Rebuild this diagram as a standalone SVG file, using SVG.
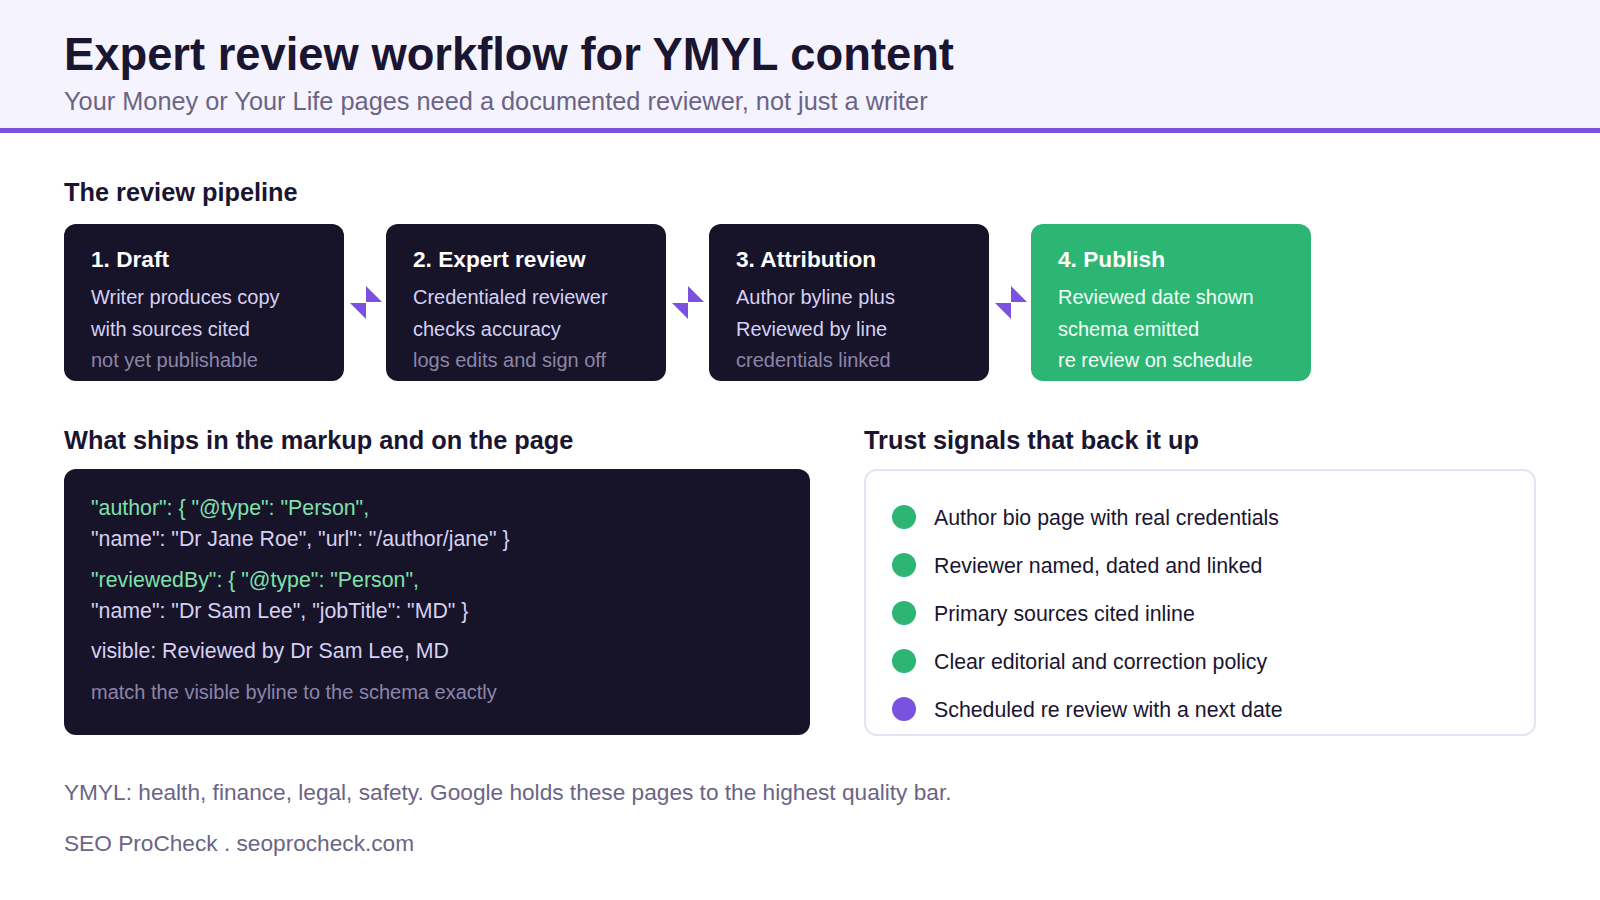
<svg xmlns="http://www.w3.org/2000/svg" width="1600" height="900" viewBox="0 0 1600 900">
  <defs>
    <style>
      text { font-family: "Liberation Sans", Arial, sans-serif; }
      .title { font-size: 45.33px; font-weight: bold; fill: #1a1530; }
      .sub { font-size: 25.33px; fill: #6b6485; }
      .h2 { font-size: 25.33px; font-weight: bold; fill: #1a1530; }
      .card { fill: #17142a; }
      .card-pub { fill: #2db673; }
      .ct { font-size: 22.67px; font-weight: bold; fill: #ffffff; }
      .cl { font-size: 20px; fill: #d6d0f2; }
      .cm { font-size: 20px; fill: #8c85a8; }
      .pl { font-size: 20px; fill: #f2fff8; }
      .code-g { font-size: 21.33px; fill: #7fe0aa; }
      .code-l { font-size: 21.33px; fill: #d6d0f2; }
      .code-m { font-size: 20px; fill: #8c85a8; }
      .trust { fill: #ffffff; stroke: #e6e3f3; stroke-width: 2; }
      .ti { font-size: 21.33px; fill: #1a1530; }
      .foot { font-size: 22.67px; fill: #6b6485; }
      .arr { fill: #7b52e0; }
    </style>
  </defs>

  <rect x="0" y="0" width="1600" height="900" fill="#ffffff"/>
  <rect x="0" y="0" width="1600" height="128" fill="#f5f3fe"/>
  <rect x="0" y="128" width="1600" height="5" fill="#7b52e0"/>

  <text class="title" x="64" y="70">Expert review workflow for YMYL content</text>
  <text class="sub" x="64" y="110">Your Money or Your Life pages need a documented reviewer, not just a writer</text>

  <text class="h2" x="64" y="201">The review pipeline</text>

  <g id="node-draft">
    <rect class="card" x="64" y="224" width="280" height="157" rx="12"/>
    <text class="ct" x="91" y="267">1. Draft</text>
    <text class="cl" x="91" y="304">Writer produces copy</text>
    <text class="cl" x="91" y="336">with sources cited</text>
    <text class="cm" x="91" y="367">not yet publishable</text>
  </g>
  <g id="node-review">
    <rect class="card" x="386" y="224" width="280" height="157" rx="12"/>
    <text class="ct" x="413" y="267">2. Expert review</text>
    <text class="cl" x="413" y="304">Credentialed reviewer</text>
    <text class="cl" x="413" y="336">checks accuracy</text>
    <text class="cm" x="413" y="367">logs edits and sign off</text>
  </g>
  <g id="node-attribution">
    <rect class="card" x="709" y="224" width="280" height="157" rx="12"/>
    <text class="ct" x="736" y="267">3. Attribution</text>
    <text class="cl" x="736" y="304">Author byline plus</text>
    <text class="cl" x="736" y="336">Reviewed by line</text>
    <text class="cm" x="736" y="367">credentials linked</text>
  </g>
  <g id="node-publish">
    <rect class="card-pub" x="1031" y="224" width="280" height="157" rx="12"/>
    <text class="ct" x="1058" y="267">4. Publish</text>
    <text class="pl" x="1058" y="304">Reviewed date shown</text>
    <text class="pl" x="1058" y="336">schema emitted</text>
    <text class="pl" x="1058" y="367">re review on schedule</text>
  </g>

  <g id="connectors">
    <polygon class="arr" points="366,286 382,302 366,302"/>
    <polygon class="arr" points="350,303 366,303 366,319"/>
    <polygon class="arr" points="688,286 704,302 688,302"/>
    <polygon class="arr" points="672,303 688,303 688,319"/>
    <polygon class="arr" points="1011,286 1027,302 1011,302"/>
    <polygon class="arr" points="995,303 1011,303 1011,319"/>
  </g>

  <text class="h2" x="64" y="449">What ships in the markup and on the page</text>
  <text class="h2" x="864" y="449">Trust signals that back it up</text>

  <g id="node-markup">
    <rect class="card" x="64" y="469" width="746" height="266" rx="12"/>
    <text class="code-g" x="91" y="515">"author": { "@type": "Person",</text>
    <text class="code-l" x="91" y="546">"name": "Dr Jane Roe", "url": "/author/jane" }</text>
    <text class="code-g" x="91" y="587">"reviewedBy": { "@type": "Person",</text>
    <text class="code-l" x="91" y="618">"name": "Dr Sam Lee", "jobTitle": "MD" }</text>
    <text class="code-l" x="91" y="658">visible: Reviewed by Dr Sam Lee, MD</text>
    <text class="code-m" x="91" y="699">match the visible byline to the schema exactly</text>
  </g>

  <g id="node-trust">
    <rect class="trust" x="865" y="470" width="670" height="265" rx="12"/>
    <circle cx="904" cy="517" r="12" fill="#2db673"/>
    <text class="ti" x="934" y="525">Author bio page with real credentials</text>
    <circle cx="904" cy="565" r="12" fill="#2db673"/>
    <text class="ti" x="934" y="573">Reviewer named, dated and linked</text>
    <circle cx="904" cy="613" r="12" fill="#2db673"/>
    <text class="ti" x="934" y="621">Primary sources cited inline</text>
    <circle cx="904" cy="661" r="12" fill="#2db673"/>
    <text class="ti" x="934" y="669">Clear editorial and correction policy</text>
    <circle cx="904" cy="709" r="12" fill="#7b52e0"/>
    <text class="ti" x="934" y="717">Scheduled re review with a next date</text>
  </g>

  <text class="foot" x="64" y="800">YMYL: health, finance, legal, safety. Google holds these pages to the highest quality bar.</text>
  <text class="foot" x="64" y="851">SEO ProCheck . seoprocheck.com</text>
</svg>
